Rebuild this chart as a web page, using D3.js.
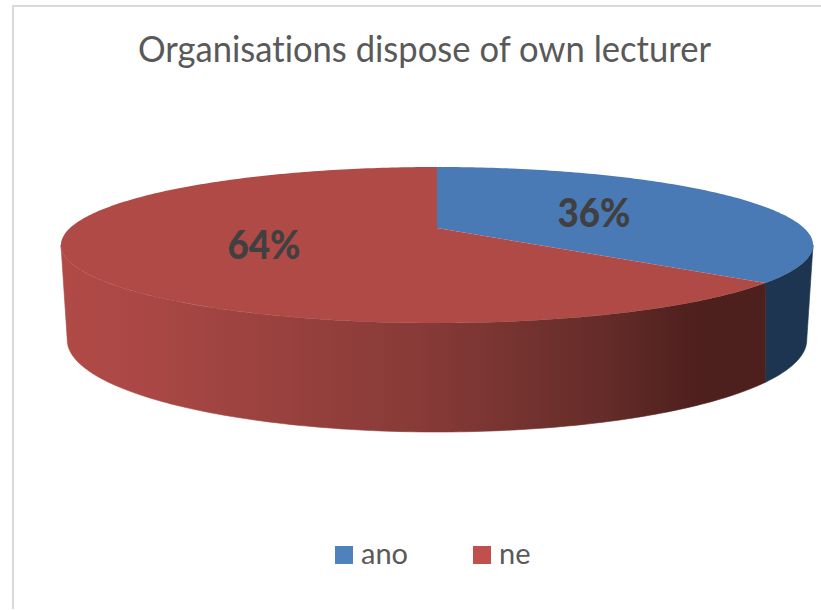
<!DOCTYPE html>
<html>
<head>
<meta charset="utf-8">
<script src="https://cdn.jsdelivr.net/npm/d3@7"></script>
<style>
  html, body { margin: 0; padding: 0; background: #fff; }
  text { font-family: Lato, sans-serif; font-variant-ligatures: none; }
</style>
</head>
<body>
<div id="grafica"></div>
<script>
titulo = 'Organisations dispose of own lecturer'
categorias = ['ano', 'ne']
valores = [36, 64]
colores = ['#4a7ab5', '#b04a47']
coloresLeyenda = ['#4f81bd', '#c0504d']

ancho_total = 821
alto_total = 610

svg = d3
        .select('#grafica')
        .append('svg')
        .attr('width', ancho_total)
        .attr('height', alto_total)
        .style('display', 'block')

// marco del grafico, solo se ve arriba y a la izquierda
svg.append('path')
  .attr('d', 'M13,609V6H821')
  .attr('fill', 'none')
  .attr('stroke', '#d9d9d9')
  .attr('stroke-width', 2)

svg.append('text')
  .attr('x', 424.5)
  .attr('y', 62)
  .attr('text-anchor', 'middle')
  .attr('font-size', '37px')
  .attr('textLength', 573)
  .attr('lengthAdjust', 'spacingAndGlyphs')
  .attr('fill', '#595959')
  .text(titulo)

// proyeccion en perspectiva de un circulo, la tapa y la base tienen su propia
tapa = { cx: 437, cy: 228, bx: 367, by: 74.3, k: 0.218 }
base = { cx: 437, cy: 317, bx: 358, by: 86.25, k: 0.25 }

function proyectar(disco, a) {
  u = Math.sin(a)
  v = -Math.cos(a)
  d = 1 - disco.k * v
  return [disco.cx + disco.bx * u / d, disco.cy + disco.by * v / d]
}

function arco(disco, a0, a1) {
  n = Math.max(2, Math.ceil(Math.abs(a1 - a0) * 60))
  return d3.range(n + 1).map((i) => proyectar(disco, a0 + (a1 - a0) * i / n))
}

// tramo visible del borde: entre los dos puntos extremos de la elipse
function tramo(disco, d) {
  limite = Math.acos(-disco.k)
  a0 = Math.max(d.startAngle, limite)
  a1 = Math.min(d.endAngle, Math.PI * 2 - limite)
  return arco(disco, a0, a1)
}

linea = d3.line()
rebanadas = d3.pie().sort(null)(valores)

// degradado del lateral rojo
defs = svg.append('defs')
grad = defs
        .append('linearGradient')
        .attr('id', 'lateral')
        .attr('gradientUnits', 'userSpaceOnUse')
        .attr('x1', 61).attr('x2', 813).attr('y1', 0).attr('y2', 0)
paradas = [[0, '#b04a47'], [0.1, '#ab4845'], [0.49, '#863a37'], [0.72, '#652c29'], [0.85, '#4d1f1d'], [1, '#4d1f1d']]
grad.selectAll('stop')
  .data(paradas)
  .enter()
  .append('stop')
  .attr('offset', (d) => d[0])
  .attr('stop-color', (d) => d[1])

// laterales
laterales = svg.append('g')
rebanadas.forEach((d, i) => {
  pts = tramo(tapa, d).concat(tramo(base, d).reverse())
  color = i == 0 ? '#1d3550' : 'url(#lateral)'
  laterales.append('path')
    .attr('d', linea(pts) + 'Z')
    .attr('fill', color)
    .attr('stroke', color)
    .attr('stroke-width', 0.6)
})

// tapa
centro = [tapa.cx, tapa.cy]
svg.append('g')
  .selectAll('path')
  .data(rebanadas)
  .enter()
  .append('path')
  .attr('d', (d) => linea([centro].concat(arco(tapa, d.startAngle, d.endAngle))) + 'Z')
  .attr('fill', (d, i) => colores[i])

// etiquetas de porcentaje
posEtiquetas = [[594, 227], [264, 259]]
svg.append('g')
  .selectAll('text')
  .data(valores)
  .enter()
  .append('text')
  .attr('x', (d, i) => posEtiquetas[i][0])
  .attr('y', (d, i) => posEtiquetas[i][1])
  .attr('text-anchor', 'middle')
  .attr('font-size', '39px')
  .attr('textLength', 73)
  .attr('lengthAdjust', 'spacingAndGlyphs')
  .attr('font-weight', 900)
  .attr('fill', '#404040')
  .text((d) => d + '%')

// leyenda
leyendaX = [335, 473]
ley = svg.append('g')
  .selectAll('g')
  .data(categorias)
  .enter()
  .append('g')
  .attr('transform', (d, i) => 'translate(' + leyendaX[i] + ',546)')
ley.append('rect')
  .attr('width', 18)
  .attr('height', 18)
  .attr('fill', (d, i) => coloresLeyenda[i])
ley.append('text')
  .attr('x', 26)
  .attr('y', 18)
  .attr('font-size', '29px')
  .attr('fill', '#595959')
  .text((d) => d)
</script>
</body>
</html>
